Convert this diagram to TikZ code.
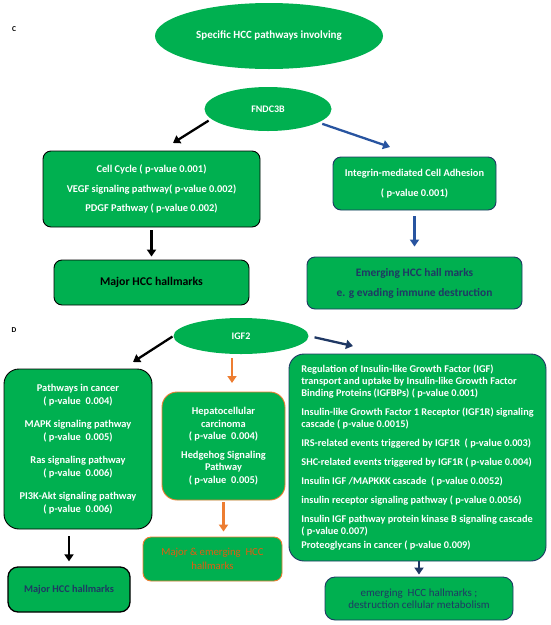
\documentclass[tikz,border=0pt]{standalone}
\usepackage{fontspec}
\setmainfont{Carlito}
\usetikzlibrary{shapes.geometric, arrows.meta}
\definecolor{hccgreen}{RGB}{0,176,80}
\definecolor{hccnavy}{RGB}{31,56,100}
\definecolor{hccblue}{RGB}{40,84,160}
\definecolor{hccorange}{RGB}{237,125,49}
\definecolor{hccotext}{RGB}{226,92,16}

\begin{document}
\begin{tikzpicture}[
    x=1pt, y=-1pt,
    oval/.style={ellipse, fill=hccgreen, text=white, inner sep=0pt, font=\bfseries\fontsize{10}{12}\selectfont},
    pbox/.style={rectangle, rounded corners=8pt, fill=hccgreen, draw=black, line width=0.9pt, inner sep=0pt, align=center, text=white, font=\bfseries\fontsize{10.4}{13}\selectfont},
    arr/.style={line width=2.3pt, -{Triangle[length=7pt,width=9pt]}}
]
\useasboundingbox (0,0) rectangle (550,625);

% panel C
\node[font=\bfseries\fontsize{7.5}{8}\selectfont] (lblC) at (14,29) {C};
\node[oval, minimum width=228pt, minimum height=66pt, font=\bfseries\fontsize{11}{13}\selectfont] (title) at (269,36) {Specific HCC pathways involving};
\node[oval, minimum width=127pt, minimum height=44pt] (fndc) at (268,109) {FNDC3B};

\node[pbox, minimum width=217pt, minimum height=76pt, font=\bfseries\fontsize{10.4}{19.5}\selectfont] (cellbox) at (151.5,189)
    {Cell Cycle ( p-value 0.001)\\VEGF signaling pathway( p-value 0.002)\\PDGF Pathway ( p-value 0.002)};
\node[pbox, minimum width=195pt, minimum height=45pt, text=black, font=\bfseries\fontsize{11.8}{13}\selectfont] (majorC) at (151.5,282.5) {Major HCC hallmarks};

\node[pbox, draw=hccnavy, minimum width=163pt, minimum height=53pt, font=\bfseries\fontsize{10.4}{20}\selectfont] (integrin) at (414.5,183.5)
    {Integrin-mediated Cell Adhesion\\( p-value 0.001)};
\node[pbox, draw=hccnavy, minimum width=215pt, minimum height=52pt, text=hccnavy, font=\bfseries\fontsize{11.4}{20}\selectfont] (emerging) at (414.5,283)
    {Emerging HCC hall marks\\e. g evading immune destruction};

\coordinate (tipC1) at (173,143);
\coordinate (tipC2) at (390,147);
\draw[arr, shorten <=3pt] (fndc.190) -- (tipC1);
\draw[arr, hccblue, shorten <=4pt] (fndc.-15) -- (tipC2);
\draw[arr, shorten <=3pt, shorten >=3pt] (cellbox.south) -- (majorC.north);
\draw[arr, hccblue, shorten <=6pt, shorten >=10pt] (integrin.south) -- (emerging.north);

% panel D
\node[font=\bfseries\fontsize{7.5}{8}\selectfont] (lblD) at (14,330) {D};
\node[oval, minimum width=135pt, minimum height=36pt] (igf) at (241,336) {IGF2};

\node[pbox, rounded corners=15pt, minimum width=148pt, minimum height=160pt] (leftbox) at (78,449)
    {Pathways in cancer\\( p-value\ \ 0.004)\\[10pt]MAPK signaling pathway\\( p-value\ \ 0.005)\\[10pt]Ras signaling pathway\\( p-value\ \ 0.006)\\[10pt]PI3K-Akt signaling pathway\\( p-value\ \ 0.006)};
\node[pbox, rounded corners=10pt, line width=1.3pt, minimum width=122pt, minimum height=45pt, text=hccnavy, font=\bfseries\fontsize{10.3}{12}\selectfont] (majorD) at (69,589.5) {Major HCC hallmarks};

\node[pbox, rounded corners=15pt, draw=hccorange, minimum width=123pt, minimum height=108pt, font=\bfseries\fontsize{10.4}{12.5}\selectfont] (midbox) at (223.5,446)
    {Hepatocellular\\carcinoma\\( p-value\ \ 0.004)\\[6pt]Hedgehog Signaling\\Pathway\\( p-value\ \ 0.005)};
\node[pbox, draw=hccorange, minimum width=139pt, minimum height=44pt, text=hccotext, font=\fontsize{10.7}{14}\selectfont] (orangebox) at (212.5,559)
    {Major \& emerging\ \ HCC\\hallmarks};

\node[pbox, rounded corners=15pt, draw=hccnavy, align=left, minimum width=257pt, minimum height=207pt, font=\bfseries\fontsize{10.3}{12}\selectfont] (bigbox) at (417.5,457.5)
    {Regulation of Insulin-like Growth Factor (IGF)\\transport and uptake by Insulin-like Growth Factor\\Binding Proteins (IGFBPs) ( p-value 0.001)\\[7pt]%
     Insulin-like Growth Factor 1 Receptor (IGF1R) signaling\\cascade ( p-value 0.0015)\\[7pt]%
     IRS-related events triggered by IGF1R\ \ ( p-value 0.003)\\[7pt]%
     SHC-related events triggered by IGF1R ( p-value 0.004)\\[7pt]%
     Insulin IGF /MAPKKK cascade\ \ ( p-value 0.0052)\\[7pt]%
     insulin receptor signaling pathway ( p-value 0.0056)\\[7pt]%
     Insulin IGF pathway protein kinase B signaling cascade\\( p-value 0.007)\\[2pt]%
     Proteoglycans in cancer ( p-value 0.009)};
\node[pbox, rounded corners=10pt, draw=hccnavy, minimum width=188pt, minimum height=43pt, text=hccnavy, font=\fontsize{11}{12}\selectfont] (navybox) at (419,598.5)
    {emerging\ \ HCC hallmarks ;\\destruction cellular metabolism};

\coordinate (tipD1) at (133,362);
\coordinate (tipD2) at (232,383);
\coordinate (tipD3) at (353,346);
\draw[arr, shorten <=1pt] (igf.west) -- (tipD1);
\draw[arr, hccorange, shorten <=4pt] (igf.south -| tipD2) -- (tipD2);
\draw[arr, hccnavy, shorten <=6pt] (igf.east) -- (tipD3);
\draw[arr, shorten <=7pt, shorten >=5pt] (leftbox.south -| majorD) -- (majorD.north);
\draw[arr, hccorange, shorten <=2pt, shorten >=5pt] (midbox.south) -- (midbox.south |- orangebox.north);
\draw[arr, hccnavy, shorten <=0pt, shorten >=2pt] (bigbox.south -| navybox) -- (navybox.north);

\end{tikzpicture}
\end{document}
